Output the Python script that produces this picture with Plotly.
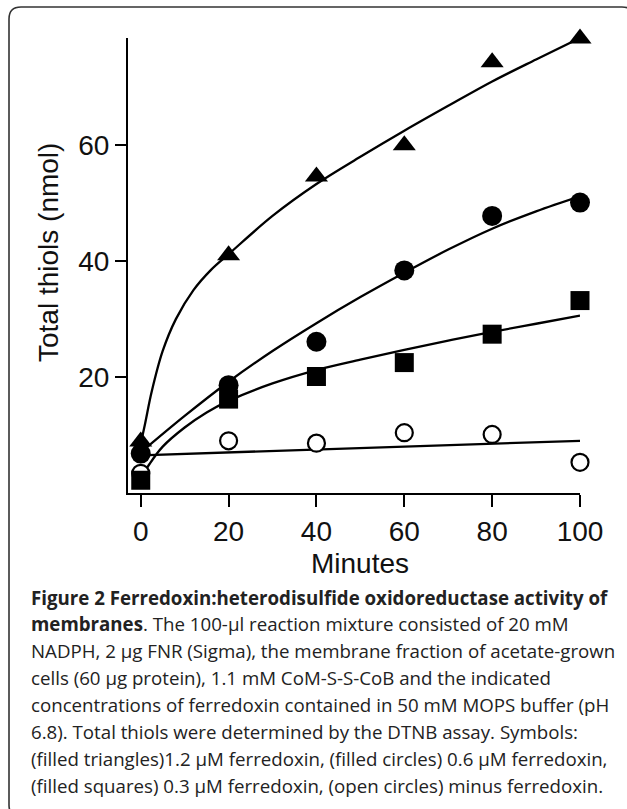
import plotly.graph_objects as go

# ---------------- data ----------------
minutes = [0, 20, 40, 60, 80, 100]
fd_12 = [8.9, 41.0, 54.6, 60.0, 74.3, 78.4]    # filled triangles, 1.2 uM ferredoxin
fd_06 = [6.8, 18.6, 26.1, 38.4, 47.8, 50.1]    # filled circles, 0.6 uM
fd_03 = [2.2, 16.2, 20.1, 22.5, 27.4, 33.2]    # filled squares, 0.3 uM
fd_00 = [3.4, 9.0, 8.6, 10.4, 10.1, 5.3]       # open circles, minus ferredoxin

# fitted curves as drawn in the figure (sampled by eye)
fit12_x = [0, 1, 2.5, 5, 8, 12, 16, 20, 30, 40, 50, 60, 70, 80, 90, 100]
fit12_y = [8.5, 12, 17.5, 24.5, 30, 35, 38.5, 41.2, 47.8, 53.3, 58, 62.5, 66.8, 71, 74.8, 78.5]
fit06_x = [0, 10, 20, 30, 40, 50, 60, 70, 80, 90, 100]
fit06_y = [7.0, 13.3, 19.2, 24.5, 29.3, 33.8, 38.0, 42.0, 45.6, 48.6, 51.2]
fit03_x = [0, 2, 5, 10, 15, 20, 30, 40, 50, 60, 70, 80, 90, 100]
fit03_y = [2.5, 5.0, 8.0, 11.3, 13.9, 15.9, 18.9, 21.2, 23.0, 24.7, 26.3, 27.8, 29.2, 30.6]
fit00_x = [0, 100]
fit00_y = [6.5, 9.0]

x_ticks = [0, 20, 40, 60, 80, 100]
y_ticks = [20, 40, 60]

caption_lines = [
    "<b>Figure 2 Ferredoxin:heterodisulfide oxidoreductase activity of</b>",
    "<b>membranes</b>. The 100-µl reaction mixture consisted of 20 mM",
    "NADPH, 2 µg FNR (Sigma), the membrane fraction of acetate-grown",
    "cells (60 µg protein), 1.1 mM CoM-S-S-CoB and the indicated",
    "concentrations of ferredoxin contained in 50 mM MOPS buffer (pH",
    "6.8). Total thiols were determined by the DTNB assay. Symbols:",
    "(filled triangles)1.2 µM ferredoxin, (filled circles) 0.6 µM ferredoxin,",
    "(filled squares) 0.3 µM ferredoxin, (open circles) minus ferredoxin.",
]

# ---------------- layout geometry ----------------
W, H = 627, 809
L, R, T, B = 128, 580, 38, 493


def px2x(px):
    return (px - L) / (R - L)


def px2y(py):
    return (B - py) / (B - T)


fig = go.Figure()

line_style = dict(color="black", width=2.3, shape="spline", smoothing=1.0)
for fx, fy in [(fit12_x, fit12_y), (fit06_x, fit06_y), (fit03_x, fit03_y)]:
    fig.add_trace(go.Scatter(x=fx, y=fy, mode="lines", line=line_style,
                             showlegend=False, hoverinfo="skip", cliponaxis=False))
fig.add_trace(go.Scatter(x=fit00_x, y=fit00_y, mode="lines",
                         line=dict(color="black", width=2.3),
                         showlegend=False, hoverinfo="skip", cliponaxis=False))

fig.add_trace(go.Scatter(x=minutes, y=fd_00, mode="markers", cliponaxis=False,
                         marker=dict(symbol="circle", size=17, color="white",
                                     line=dict(color="black", width=2.2)),
                         showlegend=False))
fig.add_trace(go.Scatter(x=minutes, y=fd_12, mode="markers", cliponaxis=False,
                         marker=dict(symbol="triangle-up", size=20, color="black"),
                         showlegend=False))
fig.add_trace(go.Scatter(x=minutes, y=fd_06, mode="markers", cliponaxis=False,
                         marker=dict(symbol="circle", size=20, color="black"),
                         showlegend=False))
fig.add_trace(go.Scatter(x=minutes, y=fd_03, mode="markers", cliponaxis=False,
                         marker=dict(symbol="square", size=19, color="black"),
                         showlegend=False))

tick_font = dict(family="Liberation Sans, Arial, sans-serif", size=28, color="#111")

fig.update_xaxes(range=[-2.9, 100], tickvals=x_ticks, ticks="outside", ticklen=12,
                 tickwidth=2, tickcolor="black", showline=True, linewidth=2,
                 linecolor="black", showgrid=False, zeroline=False,
                 tickfont=tick_font, ticklabelstandoff=0)
fig.update_yaxes(range=[0, 78.5], tickvals=y_ticks, ticks="outside", ticklen=11,
                 tickwidth=2, tickcolor="black", showline=True, linewidth=2,
                 linecolor="black", showgrid=False, zeroline=False,
                 tickfont=tick_font, ticklabelstandoff=0)

annotations = [
    dict(text="Minutes", x=px2x(360), y=px2y(563), xref="paper", yref="paper",
         showarrow=False, xanchor="center", yanchor="middle",
         font=dict(family="Liberation Sans, Arial, sans-serif", size=28, color="#111")),
    dict(text="Total thiols (nmol)", x=px2x(48), y=px2y(253), xref="paper", yref="paper",
         showarrow=False, xanchor="center", yanchor="middle", textangle=-90,
         font=dict(family="Liberation Sans, Arial, sans-serif", size=28, color="#111")),
]
cap_y0, cap_dy = 597, 26.9
for i, txt in enumerate(caption_lines):
    annotations.append(dict(
        text=txt, x=px2x(29), y=px2y(cap_y0 + i * cap_dy), xref="paper", yref="paper",
        showarrow=False, xanchor="left", yanchor="middle", align="left",
        font=dict(family="Open Sans, sans-serif", size=18.7, color="#222")))

# rounded frame around the figure (extends past right/bottom edges)
bl, bt, br, bb, rr = 9, 7, 634, 817, 12


def P(x, y):
    return f"{px2x(x):.5f},{px2y(y):.5f}"


path = (f"M{P(bl + rr, bt)} L{P(br - rr, bt)} Q{P(br, bt)} {P(br, bt + rr)} "
        f"L{P(br, bb - rr)} Q{P(br, bb)} {P(br - rr, bb)} L{P(bl + rr, bb)} "
        f"Q{P(bl, bb)} {P(bl, bb - rr)} L{P(bl, bt + rr)} Q{P(bl, bt)} {P(bl + rr, bt)} Z")

fig.update_layout(
    width=W, height=H, autosize=False,
    margin=dict(l=L, r=W - R, t=T, b=H - B, pad=0),
    paper_bgcolor="white", plot_bgcolor="white",
    annotations=annotations,
    shapes=[dict(type="path", path=path, xref="paper", yref="paper",
                 line=dict(color="#333", width=1.6), layer="below")],
)

fig.write_html("out.html")
